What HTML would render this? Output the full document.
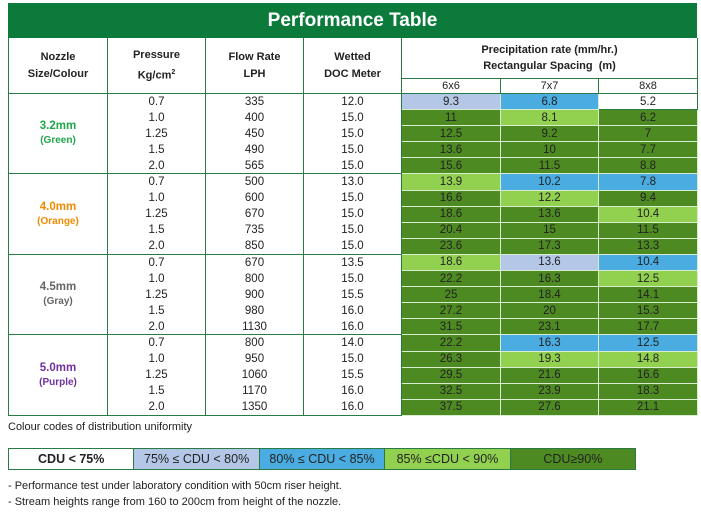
<!DOCTYPE html>
<html><head><meta charset="utf-8"><style>
body{margin:0;width:701px;height:526px;background:#fff;font-family:"Liberation Sans",sans-serif;position:relative;overflow:hidden}
.hd{position:absolute;left:8px;top:3px;width:689px;height:35px;background:#0b7a3b;color:#fff;font-weight:bold;font-size:19px;text-align:center;line-height:35px}
table{position:absolute;left:8px;top:38px;border-collapse:collapse;table-layout:fixed;width:690px;font-size:11.5px;color:#222}
td{border-left:1px solid #2a7a45;border-right:1px solid #2a7a45;text-align:center;padding:0;height:15.1px;line-height:14px;overflow:hidden}
.th td{font-weight:bold;font-size:11px;line-height:17px}
.n{font-weight:bold;font-size:11.5px;border-bottom:1px solid #2a7a45;border-top:1px solid #2a7a45}
.c{border:1px solid #d8ecd0}
.w{background:#fff;border:1px solid #2a7a45}
.lb{background:#b4c7e7}.bl{background:#4aace0}.lg{background:#92d050}.dg{background:#4e8a22}
.sub td{font-size:11px;border:1px solid #2a7a45;height:14px;line-height:14px}
.leg{position:absolute;left:8px;top:448px;height:22px;width:628px;display:flex;border:1px solid #2a7a45;box-sizing:border-box}
.leg div{flex:1;text-align:center;line-height:20px;font-size:12.5px;color:#222;border-right:1px solid #2a7a45}
.t{position:absolute;left:8px;font-size:11px;color:#222}
.tt{border-top:1px solid #2a7a45}
</style></head><body>
<div class="hd">Performance Table</div>
<table>
<col style="width:99px"><col style="width:98px"><col style="width:98px"><col style="width:98px"><col style="width:99px"><col style="width:98px"><col style="width:99px">
<tr class="th"><td rowspan="2" style="border-bottom:1px solid #2a7a45;height:55px">Nozzle<br>Size/Colour</td><td rowspan="2" style="border-bottom:1px solid #2a7a45">Pressure<br>Kg/cm<sup style="font-size:7px">2</sup></td><td rowspan="2" style="border-bottom:1px solid #2a7a45">Flow Rate<br>LPH</td><td rowspan="2" style="border-bottom:1px solid #2a7a45">Wetted<br>DOC Meter</td><td colspan="3" style="height:40px;line-height:16px">Precipitation rate (mm/hr.)<br>Rectangular Spacing&nbsp; (m)</td></tr>
<tr class="sub"><td style="font-weight:normal">6x6</td><td style="font-weight:normal">7x7</td><td style="font-weight:normal">8x8</td></tr>

<tr><td rowspan="5" class="n" style="color:#1fa64a">3.2mm<br><span style="font-size:10px">(Green)</span></td><td>0.7</td><td>335</td><td>12.0</td><td class="c lb">9.3</td><td class="c bl">6.8</td><td class="w">5.2</td></tr>
<tr><td>1.0</td><td>400</td><td>15.0</td><td class="c dg">11</td><td class="c lg">8.1</td><td class="c dg">6.2</td></tr>
<tr><td>1.25</td><td>450</td><td>15.0</td><td class="c dg">12.5</td><td class="c dg">9.2</td><td class="c dg">7</td></tr>
<tr><td>1.5</td><td>490</td><td>15.0</td><td class="c dg">13.6</td><td class="c dg">10</td><td class="c dg">7.7</td></tr>
<tr><td>2.0</td><td>565</td><td>15.0</td><td class="c dg">15.6</td><td class="c dg">11.5</td><td class="c dg">8.8</td></tr>

<tr><td rowspan="5" class="n" style="color:#f08a00">4.0mm<br><span style="font-size:10px">(Orange)</span></td><td class="tt">0.7</td><td class="tt">500</td><td class="tt">13.0</td><td class="c lg">13.9</td><td class="c bl">10.2</td><td class="c bl">7.8</td></tr>
<tr><td>1.0</td><td>600</td><td>15.0</td><td class="c dg">16.6</td><td class="c lg">12.2</td><td class="c dg">9.4</td></tr>
<tr><td>1.25</td><td>670</td><td>15.0</td><td class="c dg">18.6</td><td class="c dg">13.6</td><td class="c lg">10.4</td></tr>
<tr><td>1.5</td><td>735</td><td>15.0</td><td class="c dg">20.4</td><td class="c dg">15</td><td class="c dg">11.5</td></tr>
<tr><td>2.0</td><td>850</td><td>15.0</td><td class="c dg">23.6</td><td class="c dg">17.3</td><td class="c dg">13.3</td></tr>

<tr><td rowspan="5" class="n" style="color:#666">4.5mm<br><span style="font-size:10px">(Gray)</span></td><td class="tt">0.7</td><td class="tt">670</td><td class="tt">13.5</td><td class="c lg">18.6</td><td class="c lb">13.6</td><td class="c bl">10.4</td></tr>
<tr><td>1.0</td><td>800</td><td>15.0</td><td class="c dg">22.2</td><td class="c dg">16.3</td><td class="c lg">12.5</td></tr>
<tr><td>1.25</td><td>900</td><td>15.5</td><td class="c dg">25</td><td class="c dg">18.4</td><td class="c dg">14.1</td></tr>
<tr><td>1.5</td><td>980</td><td>16.0</td><td class="c dg">27.2</td><td class="c dg">20</td><td class="c dg">15.3</td></tr>
<tr><td>2.0</td><td>1130</td><td>16.0</td><td class="c dg">31.5</td><td class="c dg">23.1</td><td class="c dg">17.7</td></tr>

<tr><td rowspan="5" class="n" style="color:#7030a0">5.0mm<br><span style="font-size:10px">(Purple)</span></td><td class="tt">0.7</td><td class="tt">800</td><td class="tt">14.0</td><td class="c dg">22.2</td><td class="c bl">16.3</td><td class="c bl">12.5</td></tr>
<tr><td>1.0</td><td>950</td><td>15.0</td><td class="c dg">26.3</td><td class="c lg">19.3</td><td class="c lg">14.8</td></tr>
<tr><td>1.25</td><td>1060</td><td>15.5</td><td class="c dg">29.5</td><td class="c dg">21.6</td><td class="c dg">16.6</td></tr>
<tr><td>1.5</td><td>1170</td><td>16.0</td><td class="c dg">32.5</td><td class="c dg">23.9</td><td class="c dg">18.3</td></tr>
<tr><td style="border-bottom:1px solid #2a7a45">2.0</td><td style="border-bottom:1px solid #2a7a45">1350</td><td style="border-bottom:1px solid #2a7a45">16.0</td><td class="c dg">37.5</td><td class="c dg">27.6</td><td class="c dg">21.1</td></tr>
</table>
<div class="t" style="top:421px">Colour codes of distribution uniformity</div>
<div class="leg"><div style="background:#fff;font-weight:bold">CDU &lt; 75%</div><div class="lb">75% ≤ CDU &lt; 80%</div><div class="bl">80% ≤ CDU &lt; 85%</div><div class="lg">85% ≤CDU &lt; 90%</div><div class="dg" style="border-right:none">CDU≥90%</div></div>
<div class="t" style="top:480px">- Performance test under laboratory condition with 50cm riser height.</div>
<div class="t" style="top:496px">- Stream heights range from 160 to 200cm from height of the nozzle.</div>
</body></html>
